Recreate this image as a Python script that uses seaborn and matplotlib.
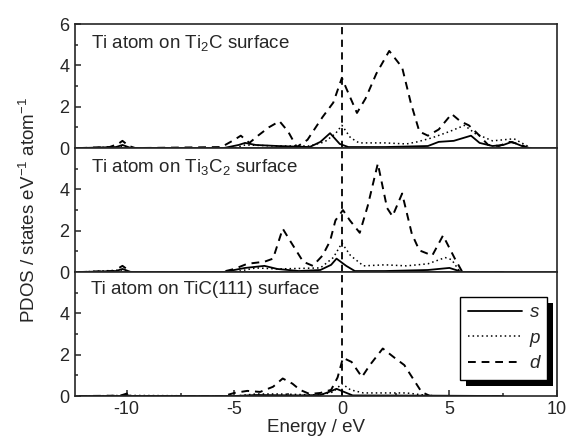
import numpy as np
import pandas as pd
import matplotlib
matplotlib.use("Agg")
import matplotlib.pyplot as plt
import seaborn as sns
from matplotlib.lines import Line2D
from matplotlib.patches import Rectangle
from matplotlib.transforms import IdentityTransform

# ---- data (energy in eV, PDOS in states/eV/atom) ----
panel_titles = ["Ti atom on Ti$_2$C surface",
                "Ti atom on Ti$_3$C$_2$ surface",
                "Ti atom on TiC(111) surface"]

# Ti2C
ti2c_d_e = [-12.2, -10.8, -10.4, -10.2, -9.9, -9.6, -5.6, -5.0, -4.7, -4.3, -3.9, -3.4, -2.9, -2.5,
            -2.1, -1.6, -0.9, -0.4, 0.0, 0.2, 0.45, 0.7, 1.1, 1.6, 2.2, 2.8, 3.2, 3.6, 4.0, 4.5,
            5.1, 5.5, 5.9, 6.3, 6.8, 7.3, 7.8, 8.2, 8.7]
ti2c_d_v = [0, 0.05, 0.2, 0.35, 0.1, 0, 0.05, 0.4, 0.6, 0.25, 0.6, 1.0, 1.3, 0.8,
            0.05, 0.4, 1.5, 2.2, 3.4, 2.9, 2.3, 1.7, 2.4, 3.6, 4.7, 3.9, 2.2, 0.8, 0.6, 0.9,
            1.65, 1.3, 1.1, 0.7, 0.15, 0.1, 0.3, 0.2, 0]
ti2c_s_e = [-12.2, -10.5, -10.2, -9.8, -5.5, -4.8, -4.5, -4.0, -3.0, -1.5, -1.0, -0.55, -0.1, 0.3,
            2.0, 4.0, 4.5, 5.2, 6.0, 6.4, 7.0, 7.5, 7.9, 8.6]
ti2c_s_v = [0, 0.05, 0.15, 0, 0, 0.15, 0.25, 0.15, 0.1, 0.05, 0.3, 0.72, 0.2, 0.05,
            0.05, 0.1, 0.3, 0.35, 0.6, 0.25, 0.1, 0.15, 0.3, 0]
ti2c_p_e = [-12.2, -10.5, -10.2, -9.8, -5.0, -4.5, -3.0, -1.5, -0.8, -0.3, 0.0, 0.4, 0.8, 2.0,
            3.0, 3.5, 4.2, 5.0, 5.7, 6.2, 7.0, 8.0, 8.8]
ti2c_p_v = [0, 0.05, 0.1, 0, 0, 0.15, 0.1, 0.1, 0.3, 0.7, 1.1, 0.5, 0.25, 0.25,
            0.2, 0.3, 0.5, 0.8, 1.1, 0.7, 0.35, 0.45, 0]

# Ti3C2
ti3c2_d_e = [-12.2, -10.6, -10.2, -9.8, -5.6, -5.0, -4.4, -3.6, -3.2, -2.75, -2.4, -1.8, -1.35,
             -0.9, -0.55, -0.3, 0.05, 0.37, 0.83, 1.2, 1.67, 2.1, 2.35, 2.8, 3.25, 3.6, 4.2,
             4.7, 5.25, 5.6, 7.5]
ti3c2_d_v = [0, 0.05, 0.3, 0, 0, 0.15, 0.4, 0.5, 0.65, 2.1, 1.5, 0.5, 0.3,
             0.8, 1.5, 2.5, 3.0, 2.5, 1.9, 3.2, 5.25, 3.1, 2.7, 3.8, 1.85, 1.05, 0.8,
             1.77, 0.65, 0, 0]
ti3c2_s_e = [-12.2, -10.5, -10.2, -9.8, -5.5, -4.5, -3.6, -3.0, -2.0, -1.0, -0.5, -0.25, 0.2,
             0.6, 2.0, 4.0, 5.0, 5.6, 7.5]
ti3c2_s_v = [0, 0.05, 0.15, 0, 0, 0.2, 0.3, 0.15, 0.05, 0.1, 0.35, 0.65, 0.3,
             0.05, 0.05, 0.1, 0.2, 0, 0]
ti3c2_p_e = [-12.2, -10.2, -9.8, -5.0, -4.0, -3.0, -1.0, -0.4, 0.0, 0.4, 1.0, 2.0, 3.0, 4.0,
             4.8, 5.1, 5.5]
ti3c2_p_v = [0, 0.1, 0, 0, 0.2, 0.15, 0.2, 0.7, 1.4, 0.8, 0.3, 0.35, 0.3, 0.4,
             0.7, 0.6, 0]

# TiC(111)
tic_d_e = [-12.2, -10.3, -10.0, -9.7, -5.5, -5.0, -4.4, -3.8, -3.2, -2.75, -2.3, -1.95, -1.5,
           -1.0, -0.5, -0.2, 0.05, 0.45, 0.93, 1.3, 1.9, 2.45, 2.9, 3.3, 3.7, 4.1, 7.5]
tic_d_v = [0, 0.02, 0.12, 0, 0, 0.15, 0.25, 0.2, 0.45, 0.85, 0.6, 0.3, 0.1,
           0.15, 0.3, 0.9, 1.85, 1.65, 0.92, 1.5, 2.3, 1.85, 1.5, 0.85, 0.2, 0, 0]
tic_s_e = [-12.2, -10.2, -10.0, -9.8, -5.0, -4.0, -2.0, -1.0, -0.6, -0.25, 0.1, 0.5, 4.0, 7.5]
tic_s_v = [0, 0, 0.05, 0, 0, 0.05, 0.03, 0.05, 0.2, 0.35, 0.2, 0.03, 0.02, 0]
tic_p_e = [-12.2, -10.0, -5.0, -4.0, -3.0, -1.0, -0.4, 0.0, 0.4, 1.0, 2.0, 3.0, 3.8, 4.5]
tic_p_v = [0, 0.03, 0, 0.1, 0.1, 0.05, 0.2, 0.6, 0.3, 0.15, 0.15, 0.15, 0.05, 0]

orbitals = ["s", "p", "d"]
styles = {"s": dict(linestyle="-", linewidth=1.3),
          "p": dict(linestyle=(0, (1, 2)), linewidth=1.1),
          "d": dict(linestyle=(0, (4, 3)), linewidth=1.4)}

panels = [
    {"s": (ti2c_s_e, ti2c_s_v), "p": (ti2c_p_e, ti2c_p_v), "d": (ti2c_d_e, ti2c_d_v)},
    {"s": (ti3c2_s_e, ti3c2_s_v), "p": (ti3c2_p_e, ti3c2_p_v), "d": (ti3c2_d_e, ti3c2_d_v)},
    {"s": (tic_s_e, tic_s_v), "p": (tic_p_e, tic_p_v), "d": (tic_d_e, tic_d_v)},
]

sns.set_style("ticks")
plt.rcParams['font.family'] = ['Liberation Sans', 'DejaVu Sans']
plt.rcParams['mathtext.fontset'] = 'custom'
plt.rcParams['mathtext.rm'] = 'Liberation Sans'
plt.rcParams['mathtext.it'] = 'Liberation Sans:italic'
plt.rcParams['axes.unicode_minus'] = False
plt.rcParams['xtick.direction'] = 'in'
plt.rcParams['ytick.direction'] = 'in'

fig, axes = plt.subplots(3, 1, sharex=True, figsize=(5.69, 4.46), dpi=100)
fig.subplots_adjust(left=0.132, right=0.979, top=0.946, bottom=0.112, hspace=0)

for i, (ax, title, pdata) in enumerate(zip(axes, panel_titles, panels)):
    for orb in orbitals:
        e, v = pdata[orb]
        df = pd.DataFrame({"energy": e, "pdos": v})
        sns.lineplot(data=df, x="energy", y="pdos", ax=ax, color="black",
                     estimator=None, sort=False, **styles[orb])
    ax.axvline(0, color="black", linestyle=(0, (4, 3)), linewidth=1.3)
    ax.set_xlim(-12.4, 10)
    ax.set_ylim(0, 6)
    ax.set_yticks([0, 2, 4, 6] if i == 0 else [0, 2, 4])
    ax.set_yticks([1, 3, 5], minor=True)
    ax.tick_params(axis="y", which="major", length=4, width=1.1, labelsize=13, pad=4)
    ax.tick_params(axis="y", which="minor", length=2.5, width=1.1)
    ax.set_xlabel("")
    ax.set_ylabel("")
    for sp in ax.spines.values():
        sp.set_linewidth(1.2)
    ax.text(0.032, 0.93, title, transform=ax.transAxes, ha="left", va="top", fontsize=13.5)
    if i < 2:
        ax.tick_params(axis="x", which="both", bottom=False)

ax = axes[-1]
ax.set_xticks([-10, -5, 0, 5, 10])
ax.set_xticks([-7.5, -2.5, 2.5, 7.5], minor=True)
ax.tick_params(axis="x", which="major", length=4, width=1.1, labelsize=13)
ax.tick_params(axis="x", which="minor", length=2.5, width=1.1)
ax.set_xlabel("Energy / eV", fontsize=13.5, labelpad=1)
axes[1].set_ylabel("PDOS / states eV$^{-1}$ atom$^{-1}$", fontsize=13.5, labelpad=15)

handles = [Line2D([], [], color="black", **styles[o]) for o in orbitals]
leg = ax.legend(handles, orbitals, loc="lower right", bbox_to_anchor=(0.98, 0.13),
                borderaxespad=0, fancybox=False, framealpha=1, edgecolor="black",
                handlelength=2.9, handletextpad=0.4, labelspacing=0.45,
                prop={"style": "italic", "size": 13.5})
leg.get_frame().set_linewidth(1.0)

# solid black drop shadow behind the legend box
fig.canvas.draw()
bb = leg.get_window_extent()
shadow = Rectangle((bb.x0 + 6, bb.y0 - 6), bb.width, bb.height, transform=IdentityTransform(),
                   facecolor="black", edgecolor="none", zorder=4.9)
ax.add_artist(shadow)

fig.savefig("out.png", dpi=100)
